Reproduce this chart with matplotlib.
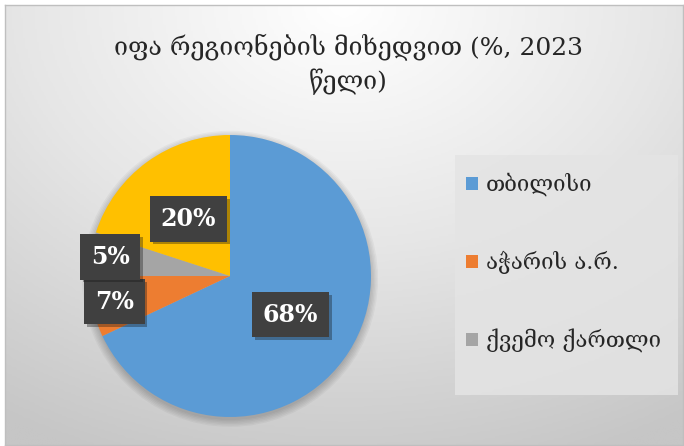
import numpy as np
import matplotlib
matplotlib.use('Agg')
import matplotlib.pyplot as plt
import matplotlib.patheffects as pe
from matplotlib.patches import Rectangle, Circle

#----data----#
regions = ['თბილისი', 'აჭარის ა.რ.', 'ქვემო ქართლი', 'სხვა']
shares = [68, 7, 5, 20]
colors = ['#5B9BD5', '#ED7D31', '#A5A5A5', '#FFC000']
label_dist = [0.51, 0.84, 0.86, 0.50]   # how far out each % box sits
title = 'იფა რეგიონების მიხედვით (%, 2023\nწელი)'

fonts = ['DejaVu Serif', 'DejaVu Sans']
W, H = 684, 446
fig = plt.figure(figsize=(W / 100, H / 100), dpi=100)
fig.patch.set_facecolor('white')

#----gradient background with border----#
bg = fig.add_axes([5 / W, 1 / H, 678 / W, 440 / H])
yy, xx = np.mgrid[0:1:200j, 0:1:300j]
dist = np.sqrt(((xx - 0.5) * 1.1) ** 2 + (yy * 0.95) ** 2)
bg.imshow(dist, cmap=plt.matplotlib.colors.LinearSegmentedColormap.from_list(
    'g', ['#ffffff', '#e6e6e6', '#c6c6c6']), aspect='auto', extent=(0, 1, 0, 1),
    origin='upper', vmin=0, vmax=1.05)
bg.set_xlim(0, 1)
bg.set_ylim(0, 1)
bg.set_xticks([])
bg.set_yticks([])
for s in bg.spines.values():
    s.set_color('#bfbfbf')
    s.set_linewidth(1)

# legend background box
fig.patches.append(Rectangle((455 / W, 1 - 395 / H), 223 / W, 240 / H,
                             transform=fig.transFigure, facecolor='#e4e4e4',
                             edgecolor='none', alpha=0.85, zorder=1))

#----pie----#
r = 141
ax = fig.add_axes([(230 - r) / W, (H - 276 - r) / H, 2 * r / W, 2 * r / H])

wedges, _ = ax.pie(shares, colors=colors, startangle=90, counterclock=False,
                   radius=1.0, wedgeprops=dict(linewidth=0))
ax.set_xlim(-1, 1)
ax.set_ylim(-1, 1)
ax.set_aspect('equal')
ax.axis('off')

# soft shadow behind the pie
for k in range(6):
    ax.add_patch(Circle((0, -0.02), 1.0 + 0.01 * k, color='#000000',
                        alpha=0.035, zorder=0, lw=0, clip_on=False))

for w, val, d in zip(wedges, shares, label_dist):
    ang = np.deg2rad((w.theta1 + w.theta2) / 2)
    t = ax.text(d * np.cos(ang), d * np.sin(ang), f'{val}%', ha='center',
                va='center', color='white', fontsize=17, fontweight='bold',
                family='DejaVu Serif', zorder=5,
                bbox=dict(boxstyle='square,pad=0.45', facecolor='#404040',
                          edgecolor='none'))
    t.get_bbox_patch().set_path_effects(
        [pe.SimplePatchShadow(offset=(2, -2), alpha=0.35), pe.Normal()])

#----title----#
fig.text(348 / W, 1 - 64 / H, title, ha='center', va='center', fontsize=18,
         color='#262626', family=fonts, linespacing=1.45)

#----legend----#
leg = fig.legend(wedges[:3], regions[:3], loc='upper left',
                 bbox_to_anchor=(466 / W, 1 - 173 / H), frameon=False,
                 prop=dict(family=fonts, size=16), handlelength=0.55,
                 handleheight=0.55, handletextpad=0.35, labelspacing=2.45,
                 borderpad=0, borderaxespad=0)
for txt in leg.get_texts():
    txt.set_color('#262626')

fig.savefig('out.png', dpi=100)
